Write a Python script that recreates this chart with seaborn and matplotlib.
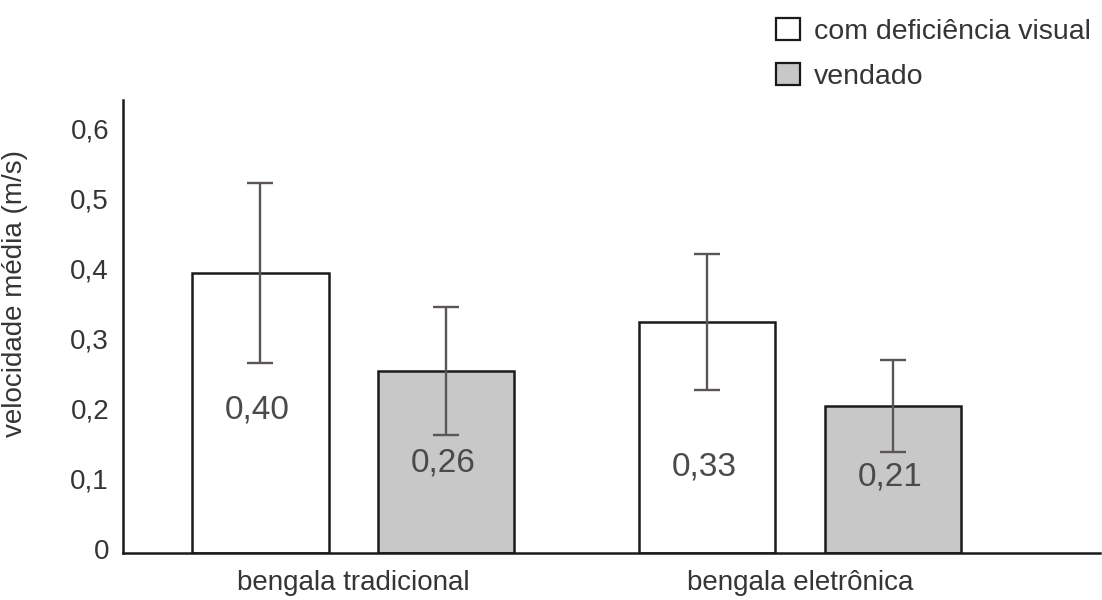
import matplotlib
matplotlib.use("Agg")
import matplotlib.pyplot as plt
from matplotlib.patches import Patch
from matplotlib.transforms import ScaledTranslation
import seaborn as sns
import pandas as pd

# --- data -------------------------------------------------------------
categories = ["bengala tradicional", "bengala eletrônica"]
groups = ["com deficiência visual", "vendado"]
mean_deficiencia = [0.40, 0.33]
mean_vendado = [0.26, 0.21]
sd_deficiencia = [0.128, 0.097]
sd_vendado = [0.091, 0.066]
value_labels_deficiencia = ["0,40", "0,33"]
value_labels_vendado = ["0,26", "0,21"]
y_ticks = [0, 0.1, 0.2, 0.3, 0.4, 0.5, 0.6]
y_tick_labels = ["0", "0,1", "0,2", "0,3", "0,4", "0,5", "0,6"]
y_title = "velocidade média (m/s)"

# --- style ------------------------------------------------------------
sns.set_theme(style="white")
plt.rcParams["font.family"] = ["Liberation Sans", "DejaVu Sans"]
text_color = "#353535"
fill_colors = {"com deficiência visual": "#ffffff", "vendado": "#c8c8c8"}
edge_color = "#1a1a1a"
err_color = "#5b5654"
# vertical placement of the value text inside each bar (data units)
label_y_deficiencia = [0.204, 0.123]
label_y_vendado = [0.129, 0.109]

df = pd.DataFrame({
    "categoria": categories * 2,
    "grupo": [groups[0]] * len(categories) + [groups[1]] * len(categories),
    "velocidade": mean_deficiencia + mean_vendado,
})

fig = plt.figure(figsize=(11.02, 6.0), dpi=100)
ax = fig.add_axes([123 / 1102, 47 / 600, 977 / 1102, 453 / 600])

sns.barplot(
    data=df, x="categoria", y="velocidade", hue="grupo",
    order=categories, hue_order=groups, palette=fill_colors,
    width=0.832, gap=0.265, edgecolor=edge_color, linewidth=1.8,
    errorbar=None, legend=False, saturation=1, ax=ax,
)

means = [mean_deficiencia, mean_vendado]
sds = [sd_deficiencia, sd_vendado]
texts = [value_labels_deficiencia, value_labels_vendado]
label_ys = [label_y_deficiencia, label_y_vendado]
for container, m, s, t, ly in zip(ax.containers, means, sds, texts, label_ys):
    xs = [b.get_x() + b.get_width() / 2 for b in container]
    ax.errorbar(xs, m, yerr=s, fmt="none", ecolor=err_color,
                elinewidth=1.7, capsize=9.7, capthick=1.7, zorder=5)
    for x, yl, lab in zip(xs, ly, t):
        ax.text(x - 0.006, yl, lab, ha="center", va="center",
                fontsize=24, color="#4a4a4a", zorder=6)

ax.set_xlim(-0.515, 1.671)
ax.set_ylim(0, 0.647)
ax.set_yticks(y_ticks)
ax.set_yticklabels(y_tick_labels)
ax.tick_params(axis="y", length=0, pad=10, labelsize=20, labelcolor=text_color)
ax.tick_params(axis="x", length=0, pad=12, labelsize=20, labelcolor=text_color)
for lab in ax.get_yticklabels():
    lab.set_transform(lab.get_transform() + ScaledTranslation(0, 4 / 100, fig.dpi_scale_trans))

ax.set_xlabel("")
ax.set_ylabel(y_title, fontsize=20, color=text_color)
ax.yaxis.set_label_coords(-0.097, 0.572)

sns.despine(ax=ax)
for side in ("left", "bottom"):
    ax.spines[side].set_color("#1a1a1a")
    ax.spines[side].set_linewidth(1.8)

handles = [Patch(facecolor=fill_colors[g], edgecolor=edge_color, linewidth=1.6, label=g)
           for g in groups]
fig.legend(handles=handles, loc="upper left", bbox_to_anchor=(770 / 1102, 1 - 12 / 600),
           frameon=False, fontsize=20.5, handlelength=0.85, handleheight=0.85,
           handletextpad=0.5, labelspacing=0.62, borderaxespad=0, borderpad=0.2,
           labelcolor=text_color)

fig.savefig("out.png", dpi=100, facecolor="white")
